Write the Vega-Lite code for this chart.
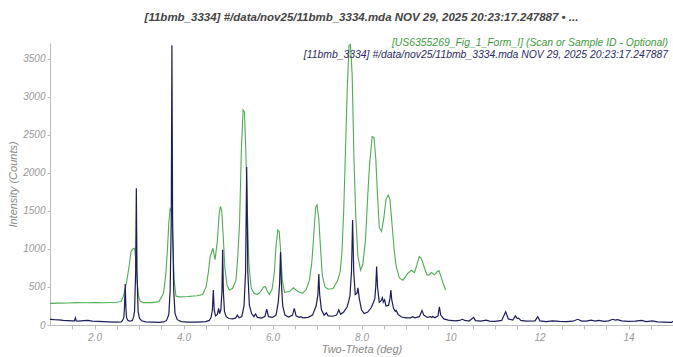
{
  "$schema": "https://vega.github.io/schema/vega-lite/v6.json",
  "width": 623,
  "height": 282,
  "autosize": "none",
  "padding": {"left": 50, "top": 43, "right": 0, "bottom": 32},
  "background": "white",
  "config": {
    "view": {"stroke": null},
    "font": "Liberation Sans",
    "axis": {
      "labelFont": "Liberation Sans", "labelFontStyle": "italic", "labelColor": "#999999", "labelFontSize": 10,
      "titleFont": "Liberation Sans", "titleFontStyle": "italic", "titleColor": "#888888", "titleFontSize": 11, "titleFontWeight": "normal",
      "domainColor": "#bbbbbb", "tickColor": "#bbbbbb", "grid": false, "tickSize": 4
    },
    "axisX": {"labelOverlap": false, "labelFlush": false}
  },
  "title": {
    "text": "[11bmb_3334] #/data/nov25/11bmb_3334.mda NOV 29, 2025 20:23:17.247887 • ...",
    "font": "Liberation Sans", "fontStyle": "italic", "fontWeight": "bold", "fontSize": 11.5, "color": "#444444",
    "anchor": "middle", "offset": 15
  },
  "datasets": {
    "green": [
      {"tt":1.00,"I":285},{"tt":1.2,"I":288},{"tt":1.4,"I":290},{"tt":1.6,"I":295},{"tt":1.8,"I":292},{"tt":2.0,"I":295},{"tt":2.2,"I":293},{"tt":2.4,"I":297},{"tt":2.5,"I":300},{"tt":2.56,"I":305},{"tt":2.6,"I":310},{"tt":2.65,"I":380},{"tt":2.72,"I":560},{"tt":2.78,"I":780},{"tt":2.82,"I":965},{"tt":2.86,"I":1000},{"tt":2.90,"I":1010},{"tt":2.93,"I":850},{"tt":2.96,"I":560},{"tt":2.99,"I":380},{"tt":3.03,"I":310},{"tt":3.1,"I":295},{"tt":3.3,"I":295},{"tt":3.45,"I":310},{"tt":3.5,"I":360},{"tt":3.55,"I":420},{"tt":3.6,"I":650},{"tt":3.64,"I":1000},{"tt":3.67,"I":1340},{"tt":3.70,"I":1530},{"tt":3.73,"I":1500},{"tt":3.76,"I":1100},{"tt":3.79,"I":600},{"tt":3.83,"I":380},{"tt":3.9,"I":370},{"tt":4.1,"I":375},{"tt":4.3,"I":385},{"tt":4.43,"I":400},{"tt":4.51,"I":505},{"tt":4.56,"I":700},{"tt":4.6,"I":900},{"tt":4.66,"I":1010},{"tt":4.71,"I":860},{"tt":4.76,"I":1100},{"tt":4.80,"I":1450},{"tt":4.83,"I":1560},{"tt":4.86,"I":1500},{"tt":4.89,"I":1200},{"tt":4.93,"I":750},{"tt":4.98,"I":520},{"tt":5.03,"I":460},{"tt":5.1,"I":480},{"tt":5.18,"I":590},{"tt":5.22,"I":900},{"tt":5.26,"I":1340},{"tt":5.30,"I":2300},{"tt":5.34,"I":2830},{"tt":5.37,"I":2800},{"tt":5.40,"I":2300},{"tt":5.43,"I":1600},{"tt":5.47,"I":800},{"tt":5.52,"I":490},{"tt":5.58,"I":420},{"tt":5.65,"I":400},{"tt":5.72,"I":430},{"tt":5.80,"I":500},{"tt":5.84,"I":505},{"tt":5.88,"I":450},{"tt":5.93,"I":400},{"tt":5.99,"I":470},{"tt":6.04,"I":680},{"tt":6.08,"I":1050},{"tt":6.12,"I":1250},{"tt":6.15,"I":1230},{"tt":6.18,"I":1000},{"tt":6.22,"I":590},{"tt":6.27,"I":430},{"tt":6.38,"I":440},{"tt":6.47,"I":490},{"tt":6.53,"I":460},{"tt":6.60,"I":430},{"tt":6.68,"I":420},{"tt":6.76,"I":470},{"tt":6.83,"I":590},{"tt":6.88,"I":800},{"tt":6.92,"I":1120},{"tt":6.97,"I":1550},{"tt":7.00,"I":1580},{"tt":7.04,"I":1400},{"tt":7.08,"I":1000},{"tt":7.12,"I":650},{"tt":7.18,"I":500},{"tt":7.25,"I":470},{"tt":7.36,"I":480},{"tt":7.46,"I":580},{"tt":7.52,"I":700},{"tt":7.56,"I":950},{"tt":7.60,"I":1500},{"tt":7.64,"I":2300},{"tt":7.68,"I":3100},{"tt":7.72,"I":3680},{"tt":7.75,"I":3690},{"tt":7.79,"I":3300},{"tt":7.83,"I":2200},{"tt":7.87,"I":1450},{"tt":7.92,"I":900},{"tt":7.98,"I":720},{"tt":8.03,"I":800},{"tt":8.09,"I":1120},{"tt":8.14,"I":1700},{"tt":8.18,"I":2100},{"tt":8.24,"I":2480},{"tt":8.28,"I":2470},{"tt":8.32,"I":2200},{"tt":8.36,"I":1700},{"tt":8.40,"I":1280},{"tt":8.45,"I":1230},{"tt":8.50,"I":1400},{"tt":8.55,"I":1650},{"tt":8.60,"I":1710},{"tt":8.64,"I":1650},{"tt":8.69,"I":1300},{"tt":8.74,"I":950},{"tt":8.78,"I":770},{"tt":8.85,"I":620},{"tt":8.93,"I":590},{"tt":9.04,"I":680},{"tt":9.12,"I":720},{"tt":9.19,"I":690},{"tt":9.25,"I":800},{"tt":9.30,"I":900},{"tt":9.34,"I":880},{"tt":9.40,"I":780},{"tt":9.47,"I":660},{"tt":9.52,"I":660},{"tt":9.57,"I":690},{"tt":9.64,"I":660},{"tt":9.70,"I":700},{"tt":9.74,"I":715},{"tt":9.78,"I":650},{"tt":9.84,"I":540},{"tt":9.89,"I":460}
    ],
    "blue": [
      {"tt":1.00,"I":75},{"tt":1.10,"I":70},{"tt":1.20,"I":68},{"tt":1.30,"I":62},{"tt":1.40,"I":58},{"tt":1.50,"I":55},{"tt":1.55,"I":55},{"tt":1.57,"I":95},{"tt":1.59,"I":55},{"tt":1.65,"I":52},{"tt":1.75,"I":58},{"tt":1.85,"I":60},{"tt":1.95,"I":52},{"tt":2.1,"I":48},{"tt":2.3,"I":42},{"tt":2.5,"I":38},{"tt":2.6,"I":40},
      {"tt":2.63,"I":60},{"tt":2.66,"I":100},{"tt":2.675,"I":240},{"tt":2.69,"I":540},{"tt":2.705,"I":240},{"tt":2.72,"I":100},{"tt":2.75,"I":60},{"tt":2.80,"I":50},{"tt":2.85,"I":60},{"tt":2.88,"I":110},
      {"tt":2.90,"I":180},{"tt":2.925,"I":700},{"tt":2.94,"I":1800},{"tt":2.955,"I":700},{"tt":2.98,"I":180},{"tt":3.01,"I":90},{"tt":3.06,"I":55},{"tt":3.15,"I":42},{"tt":3.3,"I":38},{"tt":3.45,"I":35},{"tt":3.55,"I":40},{"tt":3.62,"I":60},{"tt":3.67,"I":140},
      {"tt":3.70,"I":450},{"tt":3.725,"I":1400},{"tt":3.74,"I":3680},{"tt":3.755,"I":1400},{"tt":3.78,"I":450},{"tt":3.81,"I":150},{"tt":3.86,"I":70},{"tt":3.95,"I":45},{"tt":4.1,"I":38},{"tt":4.3,"I":38},{"tt":4.5,"I":45},{"tt":4.58,"I":60},{"tt":4.62,"I":100},
      {"tt":4.65,"I":200},{"tt":4.67,"I":460},{"tt":4.69,"I":200},{"tt":4.72,"I":120},{"tt":4.76,"I":140},{"tt":4.79,"I":220},{"tt":4.81,"I":150},{"tt":4.84,"I":200},{"tt":4.865,"I":450},{"tt":4.88,"I":990},{"tt":4.895,"I":450},{"tt":4.92,"I":180},{"tt":4.96,"I":110},{"tt":5.02,"I":85},{"tt":5.10,"I":80},{"tt":5.17,"I":90},{"tt":5.21,"I":130},{"tt":5.25,"I":95},{"tt":5.31,"I":110},{"tt":5.36,"I":250},{"tt":5.395,"I":700},{"tt":5.42,"I":2080},{"tt":5.445,"I":700},{"tt":5.48,"I":260},{"tt":5.53,"I":150},{"tt":5.58,"I":110},{"tt":5.62,"I":145},{"tt":5.66,"I":100},{"tt":5.75,"I":90},{"tt":5.83,"I":110},{"tt":5.87,"I":210},{"tt":5.91,"I":110},{"tt":6.0,"I":100},{"tt":6.08,"I":130},{"tt":6.13,"I":300},{"tt":6.16,"I":550},{"tt":6.18,"I":960},{"tt":6.20,"I":550},{"tt":6.23,"I":250},{"tt":6.28,"I":130},{"tt":6.36,"I":105},{"tt":6.45,"I":130},{"tt":6.49,"I":220},{"tt":6.53,"I":120},{"tt":6.60,"I":100},{"tt":6.64,"I":110},{"tt":6.68,"I":95},{"tt":6.80,"I":100},{"tt":6.90,"I":130},{"tt":6.98,"I":250},{"tt":7.02,"I":400},{"tt":7.04,"I":670},{"tt":7.06,"I":400},{"tt":7.10,"I":200},{"tt":7.16,"I":130},{"tt":7.21,"I":160},{"tt":7.25,"I":120},{"tt":7.35,"I":115},{"tt":7.44,"I":130},{"tt":7.49,"I":200},{"tt":7.53,"I":140},{"tt":7.60,"I":170},{"tt":7.68,"I":240},{"tt":7.74,"I":380},{"tt":7.775,"I":700},{"tt":7.80,"I":1380},{"tt":7.825,"I":700},{"tt":7.86,"I":400},{"tt":7.90,"I":420},{"tt":7.92,"I":490},{"tt":7.95,"I":350},{"tt":8.00,"I":200},{"tt":8.06,"I":150},{"tt":8.14,"I":170},{"tt":8.22,"I":230},{"tt":8.27,"I":300},{"tt":8.30,"I":350},{"tt":8.32,"I":500},{"tt":8.34,"I":770},{"tt":8.36,"I":500},{"tt":8.40,"I":300},{"tt":8.44,"I":320},{"tt":8.47,"I":360},{"tt":8.49,"I":300},{"tt":8.52,"I":330},{"tt":8.55,"I":250},{"tt":8.61,"I":260},{"tt":8.64,"I":350},{"tt":8.66,"I":460},{"tt":8.68,"I":330},{"tt":8.72,"I":220},{"tt":8.76,"I":180},{"tt":8.78,"I":190},{"tt":8.82,"I":140},{"tt":8.90,"I":105},{"tt":9.00,"I":95},{"tt":9.10,"I":95},{"tt":9.15,"I":110},{"tt":9.20,"I":95},{"tt":9.30,"I":110},{"tt":9.36,"I":190},{"tt":9.40,"I":130},{"tt":9.48,"I":100},{"tt":9.55,"I":110},{"tt":9.58,"I":100},{"tt":9.60,"I":115},{"tt":9.65,"I":95},{"tt":9.72,"I":120},{"tt":9.75,"I":240},{"tt":9.78,"I":130},{"tt":9.85,"I":80},{"tt":9.95,"I":65},{"tt":10.10,"I":55},{"tt":10.20,"I":60},{"tt":10.27,"I":75},{"tt":10.32,"I":60},{"tt":10.42,"I":52},{"tt":10.52,"I":100},{"tt":10.56,"I":58},{"tt":10.68,"I":50},{"tt":10.80,"I":65},{"tt":10.88,"I":52},{"tt":11.0,"I":48},{"tt":11.15,"I":60},{"tt":11.24,"I":175},{"tt":11.30,"I":80},{"tt":11.40,"I":65},{"tt":11.46,"I":120},{"tt":11.50,"I":85},{"tt":11.53,"I":90},{"tt":11.58,"I":60},{"tt":11.70,"I":50},{"tt":11.90,"I":55},{"tt":11.96,"I":110},{"tt":12.01,"I":55},{"tt":12.15,"I":45},{"tt":12.29,"I":55},{"tt":12.45,"I":48},{"tt":12.60,"I":45},{"tt":12.75,"I":50},{"tt":12.86,"I":75},{"tt":12.95,"I":52},{"tt":13.05,"I":50},{"tt":13.16,"I":65},{"tt":13.25,"I":52},{"tt":13.33,"I":60},{"tt":13.45,"I":48},{"tt":13.55,"I":55},{"tt":13.65,"I":75},{"tt":13.70,"I":65},{"tt":13.75,"I":70},{"tt":13.85,"I":55},{"tt":14.0,"I":48},{"tt":14.15,"I":50},{"tt":14.29,"I":60},{"tt":14.40,"I":45},{"tt":14.54,"I":55},{"tt":14.65,"I":42},{"tt":14.80,"I":38},{"tt":14.92,"I":35},{"tt":14.97,"I":35},{"tt":15.0,"I":50}
    ],
    "legendGreen": [{"label": "[US6355269_Fig_1_Form_I] (Scan or Sample ID - Optional)"}],
    "legendBlue": [{"label": "[11bmb_3334] #/data/nov25/11bmb_3334.mda NOV 29, 2025 20:23:17.247887"}]
  },
  "layer": [
    {
      "data": {"name": "green"},
      "mark": {"type": "line", "color": "#4caf50", "strokeWidth": 1.1, "clip": true},
      "encoding": {
        "x": {"field": "tt", "type": "quantitative", "scale": {"domain": [1, 15], "nice": false, "zero": false},
          "axis": {"title": "Two-Theta (deg)", "tickCount": 100, "values": [1.5,2,2.5,3,3.5,4,4.5,5,5.5,6,6.5,7,7.5,8,8.5,9,9.5,10,10.5,11,11.5,12,12.5,13,13.5,14,14.5,15],
            "labelExpr": "abs(datum.value - 2 * round(datum.value / 2)) < 0.01 ? (datum.value < 9 ? format(datum.value, '.1f') : format(datum.value, 'd')) : ''",
            "labelOverlap": false, "labelFlush": false, "labelPadding": 3, "titlePadding": 1}},
        "y": {"field": "I", "type": "quantitative", "scale": {"domain": [0, 3710], "nice": false},
          "axis": {"title": "Intensity (Counts)", "values": [0,500,1000,1500,2000,2500,3000,3500], "format": "d", "tickSize": 3, "labelPadding": 2, "titlePadding": 4}}
      }
    },
    {
      "data": {"name": "blue"},
      "mark": {"type": "line", "color": "#1c1c5c", "strokeWidth": 1.2, "clip": true},
      "encoding": {
        "x": {"field": "tt", "type": "quantitative"},
        "y": {"field": "I", "type": "quantitative"}
      }
    },
    {
      "data": {"name": "legendGreen"},
      "mark": {"type": "text", "align": "right", "baseline": "middle", "dx": -5, "dy": 0, "font": "Liberation Sans", "fontStyle": "italic", "fontSize": 10.4, "color": "#3d9b3d"},
      "encoding": {"x": {"datum": 15}, "y": {"datum": 3710}, "text": {"field": "label"}}
    },
    {
      "data": {"name": "legendBlue"},
      "mark": {"type": "text", "align": "right", "baseline": "middle", "dx": -5, "dy": 12, "font": "Liberation Sans", "fontStyle": "italic", "fontSize": 10.4, "color": "#2b2b66"},
      "encoding": {"x": {"datum": 15}, "y": {"datum": 3710}, "text": {"field": "label"}}
    }
  ]
}
